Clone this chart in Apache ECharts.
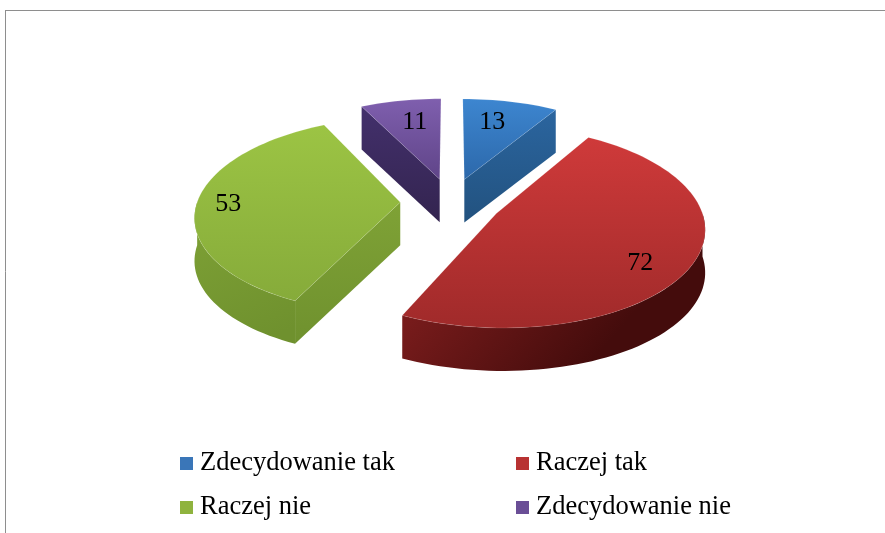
<!DOCTYPE html>
<html><head><meta charset="utf-8">
<style>html,body{margin:0;padding:0;background:#fff}#c{width:885px;height:533px;filter:blur(0.4px)}</style>
<script src="https://cdn.jsdelivr.net/npm/echarts@6/dist/echarts.min.js"></script>
</head><body><div id="c"></div>
<script>
const categories = ['Zdecydowanie tak', 'Raczej tak', 'Raczej nie', 'Zdecydowanie nie'];
const values = [13, 72, 53, 11];

const FONT = '"Liberation Serif","Times New Roman",serif';
const view = {cx: 451, cy: 202, rx: 203, ry: 96.3, persp: 0.129, explode: 0.25, depth: 43};
const labelOffset = [[28, -57], [144, 50], [-172, 2], [-25, -57]];
const palette = [
  {top: ['#3d86d0', '#2c68aa'], side: ['#2b659f', '#22527f'], arc: ['#2b659f', '#22527f'], key: '#3a76b8'},
  {top: ['#cf3a3a', '#a02a2a'], side: ['#8a2020', '#5a1212'], arc: ['#8e2222', '#440c0c'], key: '#b83232'},
  {top: ['#9cc444', '#86ab3a'], side: ['#7fa236', '#6f912e'], arc: ['#7fa236', '#6f912e'], key: '#8fb33e'},
  {top: ['#7f5fae', '#5f4488'], side: ['#43306c', '#33244f'], arc: ['#43306c', '#33244f'], key: '#6a4e96'}
];
const total = values.reduce((a, b) => a + b, 0);
const starts = values.map((v, i) => values.slice(0, i).reduce((a, b) => a + b, 0) / total * 360);

function grad(c, x2) {
  return {type: 'linear', x: 0, y: 0, x2: x2 || 0, y2: 1, colorStops: [{offset: 0, color: c[0]}, {offset: 1, color: c[1]}]};
}
function project(i, r, deg, shift) {
  const a1 = starts[i], a2 = a1 + values[i] / total * 360, mid = (a1 + a2) / 2 * Math.PI / 180;
  const t = deg * Math.PI / 180;
  const u = view.explode * Math.sin(mid) + r * Math.sin(t);
  const w = view.explode * Math.cos(mid) + r * Math.cos(t);
  const s = 1 / (1 + view.persp * w);
  return [view.cx + view.rx * u * s, view.cy - view.ry * w * s + (shift ? view.depth : 0)];
}
function arcPts(i, from, to, shift) {
  const pts = [];
  const n = Math.max(2, Math.ceil(Math.abs(to - from) / 2));
  for (let k = 0; k <= n; k++) pts.push(project(i, 1, from + (to - from) * k / n, shift));
  return pts;
}
function facing(deg) { return Math.cos(deg * Math.PI / 180) < -0.01; }

function renderSlice(i, api) {
  const sweep = api.value(0) / total * 360;
  const a1 = starts[i], a2 = a1 + sweep, col = palette[i], kids = [];
  const apex = project(i, 0, 0, false), apexB = project(i, 0, 0, true);
  const poly = (points, fill, extra) => kids.push({type: 'polygon', silent: true, shape: {points},
    style: Object.assign({fill}, extra || {})});
  const f = Math.max(a1, 90), g = Math.min(a2, 270);
  if (g > f) poly(arcPts(i, f, g, false).concat(arcPts(i, g, f, true)), grad(col.arc, 0.6));
  [[a1, a1 - 90], [a2, a2 + 90]].forEach(([edge, normal]) => {
    if (facing(normal)) {
      poly([apex, project(i, 1, edge, false), project(i, 1, edge, true), apexB], grad(col.side));
    }
  });
  poly([apex].concat(arcPts(i, a1, a2, false)), grad(col.top), {stroke: 'rgba(255,255,255,0.12)', lineWidth: 1});
  kids.push({type: 'text', silent: true, style: {
    text: String(api.value(0)), x: apex[0] + labelOffset[i][0], y: apex[1] + labelOffset[i][1],
    font: '26px ' + FONT, fill: '#000', textAlign: 'center', textVerticalAlign: 'middle'}});
  return {type: 'group', children: kids};
}

const legendBase = {orient: 'vertical', icon: 'rect', itemWidth: 13, itemHeight: 13, itemGap: 17,
  textStyle: {fontFamily: FONT, fontSize: 26.5, color: '#000', padding: [0, 0, 0, 2]}, selectedMode: false};

const chart = echarts.init(document.getElementById('c'), null, {renderer: 'canvas'});
chart.setOption({
  animation: false,
  backgroundColor: '#fff',
  legend: [
    Object.assign({}, legendBase, {left: 175, top: 445, data: [categories[0], categories[2]]}),
    Object.assign({}, legendBase, {left: 511, top: 445, data: [categories[1], categories[3]]})
  ],
  graphic: [
    {type: 'line', silent: true, shape: {x1: 5, y1: 10.5, x2: 885, y2: 10.5}, style: {stroke: '#8e8e8e', lineWidth: 1}},
    {type: 'line', silent: true, shape: {x1: 5.5, y1: 10, x2: 5.5, y2: 533}, style: {stroke: '#8e8e8e', lineWidth: 1}}
  ],
  series: [3, 0, 2, 1].map(i => ({
    type: 'custom', name: categories[i], coordinateSystem: 'none',
    itemStyle: {color: palette[i].key},
    data: [[values[i]]],
    renderItem: (p, api) => renderSlice(i, api)
  }))
});
</script></body></html>
